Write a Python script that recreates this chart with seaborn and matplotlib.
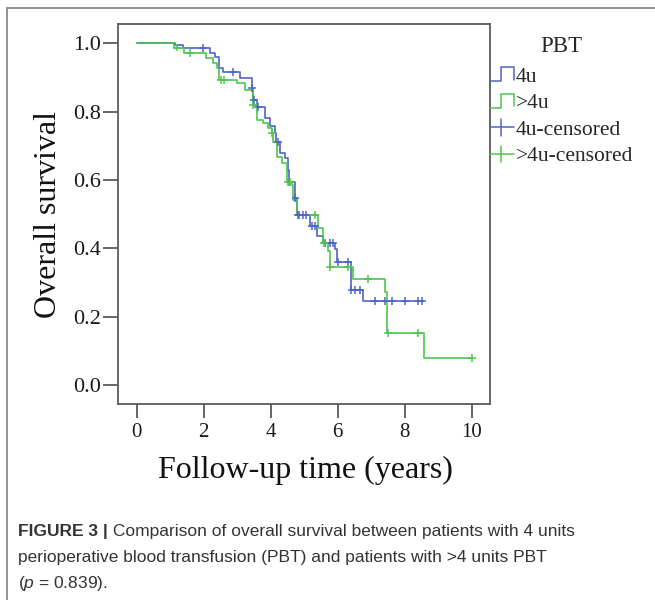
import numpy as np
import pandas as pd
import matplotlib
matplotlib.use("Agg")
import matplotlib.pyplot as plt
import seaborn as sns
from matplotlib.legend_handler import HandlerBase
from matplotlib.lines import Line2D
from matplotlib.patches import Rectangle

# ---------------- data ----------------
groups = ["4u", ">4u"]

blue_t = [0, 1.14, 1.39, 2.19, 2.34, 2.47, 2.59, 3.08, 3.43, 3.48, 3.58, 3.83, 3.98, 4.13,
          4.16, 4.28, 4.43, 4.53, 4.55, 4.73, 4.78, 5.17, 5.37, 5.57, 5.92, 5.99, 6.39, 6.77]
blue_s = [1.0, 0.995, 0.986, 0.971, 0.961, 0.927, 0.917, 0.898, 0.869, 0.835, 0.815, 0.781,
          0.758, 0.737, 0.712, 0.678, 0.664, 0.630, 0.595, 0.547, 0.498, 0.466, 0.437, 0.415,
          0.398, 0.361, 0.278, 0.246]
blue_end = 8.54
blue_cens = [1.99, 2.88, 3.44, 3.51, 3.63, 4.23, 4.56, 4.74, 4.80, 4.85, 4.97, 5.05, 5.22, 5.32,
             5.62, 5.77, 5.87, 6.02, 6.32, 6.41, 6.52, 6.67, 7.11, 7.41, 7.61, 8.01, 8.41, 8.51]

green_t = [0, 1.11, 1.40, 2.07, 2.29, 2.40, 2.47, 2.99, 3.23, 3.46, 3.58, 3.78, 3.93, 4.03,
           4.08, 4.20, 4.33, 4.48, 4.50, 4.63, 4.68, 4.78, 5.42, 5.57, 5.72, 5.77, 6.47, 7.41,
           7.48, 8.59]
green_s = [1.0, 0.988, 0.973, 0.957, 0.942, 0.927, 0.893, 0.883, 0.864, 0.820, 0.776, 0.766,
           0.752, 0.737, 0.712, 0.668, 0.649, 0.630, 0.595, 0.586, 0.542, 0.498, 0.459, 0.415,
           0.393, 0.345, 0.310, 0.272, 0.153, 0.078]
green_end = 10.0
green_cens = [1.19, 1.59, 2.52, 2.62, 3.48, 4.05, 4.51, 4.58, 5.32, 5.59, 5.78, 6.32, 6.91,
              7.49, 8.40, 10.0]

x_ticks = [0, 2, 4, 6, 8, 10]
y_ticks = [0.0, 0.2, 0.4, 0.6, 0.8, 1.0]

legend_labels = ["4u", ">4u", "4u-censored", ">4u-censored"]
legend_title = "PBT"
x_label = "Follow-up time (years)"
y_label = "Overall survival"
caption_bold = "FIGURE 3 |"
caption_l1 = " Comparison of overall survival between patients with 4 units"
caption_l2 = "perioperative blood transfusion (PBT) and patients with >4 units PBT"
caption_l3 = "($p$ = 0.839)."

# ---------------- build tables ----------------
def curve_df(t, s, end, g):
    return pd.DataFrame({"time": list(t) + [end], "surv": list(s) + [s[-1]], "group": g})

def cens_df(t, s, c, g):
    idx = np.searchsorted(np.asarray(t), np.asarray(c), side="right") - 1
    return pd.DataFrame({"time": c, "surv": np.asarray(s)[idx], "group": g})

curves = pd.concat([curve_df(blue_t, blue_s, blue_end, groups[0]),
                    curve_df(green_t, green_s, green_end, groups[1])], ignore_index=True)
cens = pd.concat([cens_df(blue_t, blue_s, blue_cens, groups[0]),
                  cens_df(green_t, green_s, green_cens, groups[1])], ignore_index=True)

BLUE = "#5064c6"
GREEN = "#4cc64c"
palette = {groups[0]: BLUE, groups[1]: GREEN}

# ---------------- style ----------------
sns.set_style("ticks")
plt.rcParams["font.family"] = ["Liberation Serif", "DejaVu Serif"]
plt.rcParams["mathtext.fontset"] = "custom"
plt.rcParams["mathtext.it"] = "Liberation Sans:italic"
plt.rcParams["mathtext.rm"] = "Liberation Sans"

W, H = 655, 600
fig = plt.figure(figsize=(W / 100, H / 100), dpi=100)
fig.patch.set_facecolor("white")

# outer panel frame
fig.add_artist(Rectangle((7 / W, -0.2), 1.2, (600 - 8) / H + 0.2, transform=fig.transFigure,
                         fill=False, edgecolor="#8a8a8a", lw=1.3, clip_on=False))

ax = fig.add_axes([118 / W, 1 - 404 / H, (490 - 118) / W, (404 - 24) / H])

sns.lineplot(data=curves, x="time", y="surv", hue="group", palette=palette,
             estimator=None, sort=False, drawstyle="steps-post", lw=1.2,
             legend=False, ax=ax)
sns.scatterplot(data=cens, x="time", y="surv", hue="group", palette=palette,
                marker="+", s=32, linewidth=1.1, legend=False, ax=ax, zorder=3)

ax.set_xlim(-0.558, 10.546)
ax.set_ylim(-0.0556, 1.057)
ax.set_xticks(x_ticks)
ax.set_xticklabels([str(v) for v in x_ticks])
ax.set_yticks(y_ticks)
ax.set_yticklabels([f"{v:.1f}" for v in y_ticks])
ax.set_xlabel("")
ax.set_ylabel("")
for sp in ax.spines.values():
    sp.set_visible(True)
    sp.set_color("#5a5a5a")
    sp.set_linewidth(1.3)
ax.tick_params(axis="y", direction="out", length=11, width=1.3, color="#5a5a5a",
               labelsize=16, pad=1.5, labelcolor="#1a1a1a")
ax.tick_params(axis="x", direction="out", length=10, width=1.3, color="#5a5a5a",
               labelsize=15, pad=4, labelcolor="#1a1a1a")

fig.text(305 / W, 1 - 470 / H, x_label, ha="center", va="center", fontsize=23, color="#111111")
fig.text(49 / W, 1 - 214 / H, y_label, ha="center", va="center", rotation=90,
         fontsize=23, color="#111111")

# ---------------- legend ----------------
class StepHandler(HandlerBase):
    def create_artists(self, legend, orig_handle, xdescent, ydescent, width, height,
                       fontsize, trans):
        xs = np.array([0.0, 0.45, 0.45, 1.0, 1.0]) * width - xdescent
        ys = np.array([0.05, 0.05, 0.95, 0.95, 0.15]) * height - ydescent
        return [Line2D(xs, ys, color=orig_handle.get_color(), lw=1.1, transform=trans)]


class CensHandler(HandlerBase):
    def create_artists(self, legend, orig_handle, xdescent, ydescent, width, height,
                       fontsize, trans):
        c = orig_handle.get_color()
        h = Line2D(np.array([0.0, 1.0]) * width - xdescent,
                   np.array([0.5, 0.5]) * height - ydescent, color=c, lw=1.1, transform=trans)
        v = Line2D(np.array([0.45, 0.45]) * width - xdescent,
                   np.array([-0.05, 1.05]) * height - ydescent, color=c, lw=1.1, transform=trans)
        return [h, v]


class StepProxy(Line2D):
    pass


class CensProxy(Line2D):
    pass


handles = [StepProxy([], [], color=BLUE), StepProxy([], [], color=GREEN),
           CensProxy([], [], color=BLUE), CensProxy([], [], color=GREEN)]
leg = fig.legend(handles, legend_labels, title=legend_title, loc="upper left",
                 bbox_to_anchor=(490 / W, 1 - 36 / H), frameon=False, borderpad=0,
                 borderaxespad=0, handlelength=1.1, handleheight=0.7, handletextpad=0.1,
                 labelspacing=0.3,
                 prop={"family": "Liberation Serif", "size": 15.5},
                 title_fontproperties={"family": "Liberation Serif", "size": 16.5},
                 handler_map={StepProxy: StepHandler(), CensProxy: CensHandler()})
leg._legend_box.sep = 7

# ---------------- caption ----------------
cap_kw = dict(fontsize=12.5, color="#333333", family="Liberation Sans", va="baseline")
x0 = 18 / W
t_bold = fig.text(x0, 1 - 536 / H, caption_bold, fontweight="bold", ha="left", **cap_kw)
fig.canvas.draw()
bb = t_bold.get_window_extent(renderer=fig.canvas.get_renderer())
fig.text(bb.x1 / W, 1 - 536 / H, caption_l1, ha="left", **cap_kw)
fig.text(x0, 1 - 562 / H, caption_l2, ha="left", **cap_kw)
fig.text(x0, 1 - 588 / H, caption_l3, ha="left", **cap_kw)

fig.savefig("out.png", dpi=100)
